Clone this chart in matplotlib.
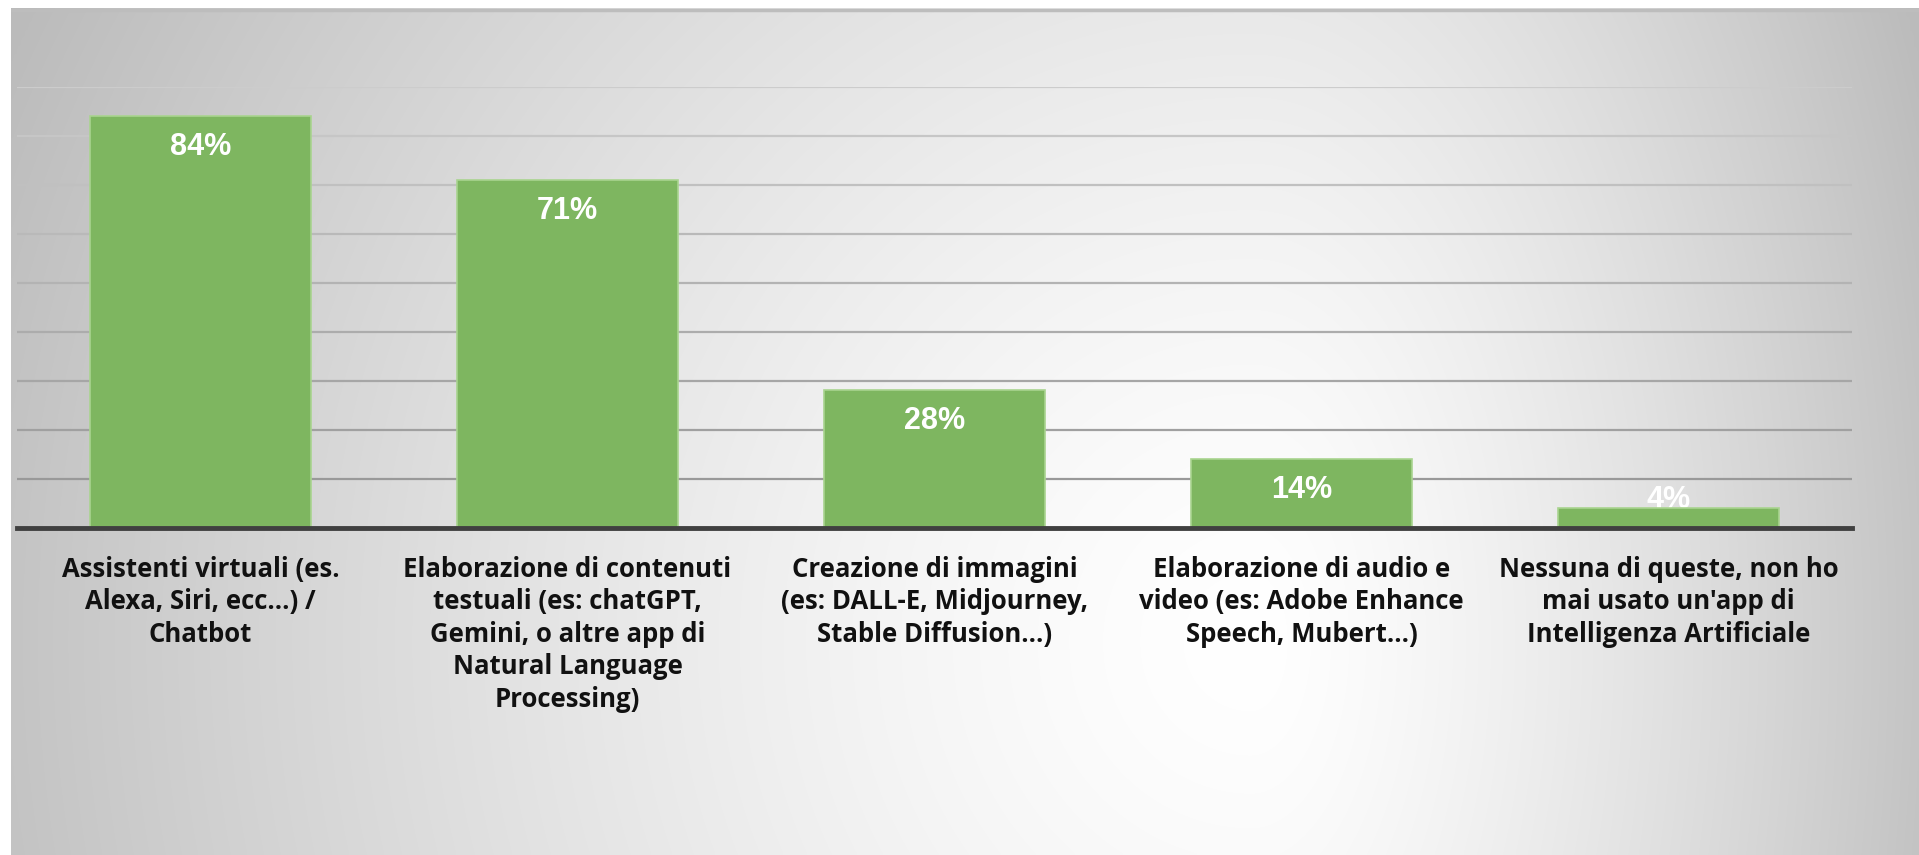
import numpy as np
import matplotlib
matplotlib.use("Agg")
import matplotlib.pyplot as plt

categories = [
    "Assistenti virtuali (es.\nAlexa, Siri, ecc...) /\nChatbot",
    "Elaborazione di contenuti\ntestuali (es: chatGPT,\nGemini, o altre app di\nNatural Language\nProcessing)",
    "Creazione di immagini\n(es: DALL-E, Midjourney,\nStable Diffusion\u2026)",
    "Elaborazione di audio e\nvideo (es: Adobe Enhance\nSpeech, Mubert\u2026)",
    "Nessuna di queste, non ho\nmai usato un'app di\nIntelligenza Artificiale",
]
values = [0.84, 0.71, 0.28, 0.14, 0.04]
value_labels = ["84%", "71%", "28%", "14%", "4%"]

W, H = 1919, 855
fig = plt.figure(figsize=(W / 100, H / 100), dpi=100)
fig.patch.set_facecolor("white")

# --- gradient background panel (bright band a bit right of centre) -------------
bg = fig.add_axes([11 / W, 0, 1 - 11 / W, 1 - 8 / H])
bg.set_axis_off()
gx, gy = np.meshgrid(np.linspace(0, 1, 500), np.linspace(0, 1, 250))
cx = 0.65
dx = np.where(gx < cx, (gx - cx) / cx, (gx - cx) / (1 - cx))
d = np.sqrt(dx ** 2 + ((gy - 0.75) / 1.5) ** 2)
shade = 1.0 - 0.23 * np.clip(d, 0, 1.1) ** 1.4
bg.imshow(np.dstack([shade] * 3), aspect="auto", extent=[0, 1, 1, 0],
          interpolation="bilinear", vmin=0, vmax=1)
bg.set_xlim(0, 1)
bg.set_ylim(1, 0)
bg.axhline(0.002, color="#bdbdbd", lw=2.5)

# --- bars --------------------------------------------------------------------
ax = fig.add_axes([17 / W, (H - 527.5) / H, (1852 - 17) / W, (527.5 - 87) / H])
ax.patch.set_alpha(0)
x = np.arange(len(values))
ax.bar(x, values, width=0.603, color="#7eb660", edgecolor="#a9d48f",
       linewidth=1.2, zorder=3)
ax.set_xlim(-0.5, len(values) - 0.5)
ax.set_ylim(0, 0.9)
grid_y = np.arange(0.1, 0.91, 0.1)
grid_c = [plt.cm.gray(0.60 + 0.2 * (g - 0.1) / 0.8) for g in grid_y]
ax.hlines(grid_y, -0.5, len(values) - 0.5, colors=grid_c, lw=1.6, zorder=1)
ax.set_yticks([])
ax.tick_params(left=False, labelleft=False, bottom=False, labelbottom=False)
for s in ["top", "right", "left"]:
    ax.spines[s].set_visible(False)
ax.spines["bottom"].set_color("#404040")
ax.spines["bottom"].set_linewidth(3.5)
ax.spines["bottom"].set_zorder(4)

for xi, v, lab in zip(x, values, value_labels):
    yc = max(v - 0.063, 0.056)
    ax.text(xi, yc, lab, ha="center", va="center", color="white",
            fontsize=22, fontweight="bold", family="Liberation Sans",
            zorder=4 if yc < v - 0.03 else 2)

for xi, lab in zip(x, categories):
    ax.text(xi, -0.058, lab, ha="center", va="top", color="#111111",
            fontsize=18.5, fontweight="bold", family="Open Sans",
            linespacing=1.26, clip_on=False)

fig.savefig("out.png", dpi=100)
